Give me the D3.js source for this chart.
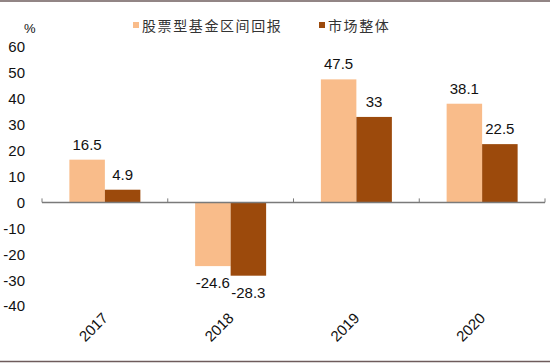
<!DOCTYPE html>
<html><head><meta charset="utf-8">
<script src="https://cdn.jsdelivr.net/npm/d3@7/dist/d3.min.js"></script>
<style>body{margin:0;background:#fff}svg{display:block}</style>
</head><body>
<svg id="c" width="550" height="363"></svg>
<script>
const categories = ["2017", "2018", "2019", "2020"];
const seriesNames = ["股票型基金区间回报", "市场整体"];
const fundValues = [16.5, -24.6, 47.5, 38.1];
const marketValues = [4.9, -28.3, 33, 22.5];
const yTicks = [60, 50, 40, 30, 20, 10, 0, -10, -20, -30, -40];
const colors = ["#F9BC8A", "#9C4A0C"];

const svg = d3.select("#c");
const W = 550, H = 363;
svg.append("rect").attr("width", W).attr("height", H).attr("fill", "#fff");
// frame lines
svg.append("line").attr("x1",0).attr("x2",W).attr("y1",1).attr("y2",1).attr("stroke","#6e5c5c").attr("stroke-width",1.5);
svg.append("line").attr("x1",0).attr("x2",W).attr("y1",361.5).attr("y2",361.5).attr("stroke","#6e5c5c").attr("stroke-width",1.5);

const x = d3.scaleBand().domain(categories).range([42, 545]).padding(0);
const y = d3.scaleLinear().domain([-40, 60]).range([306, 47]);
const barW = 35.5;
const font = "Arial, 'Liberation Sans', sans-serif";

// y tick labels
svg.append("g").selectAll("text").data(yTicks).join("text")
  .attr("x", 25).attr("y", d => y(d)).attr("dy", "0.36em")
  .attr("text-anchor", "end").attr("font-family", font).attr("font-size", 15).attr("fill", "#111")
  .text(d => d);
svg.append("text").attr("x", 24).attr("y", 33).attr("font-family", font).attr("font-size", 13).attr("fill", "#111").text("%");

// bars
const series = [fundValues, marketValues];
series.forEach((vals, si) => {
  const g = svg.append("g");
  g.selectAll("rect").data(categories).join("rect")
    .attr("x", (c) => x(c) + x.bandwidth()/2 - barW + si*barW)
    .attr("width", barW)
    .attr("y", (c, i) => Math.min(y(vals[i]), y(0)))
    .attr("height", (c, i) => Math.abs(y(vals[i]) - y(0)))
    .attr("fill", colors[si]);
  g.selectAll("text").data(categories).join("text")
    .attr("x", (c) => x(c) + x.bandwidth()/2 - barW/2 + si*barW)
    .attr("y", (c, i) => vals[i] >= 0 ? y(vals[i]) - 10 : y(vals[i]) + 22)
    .attr("text-anchor", "middle").attr("font-family", font).attr("font-size", 15).attr("fill", "#111")
    .text((c, i) => vals[i]);
});

// x axis
const axisG = svg.append("g").attr("transform", `translate(0,${y(0)})`);
axisG.append("line").attr("x1", 42).attr("x2", 545).attr("stroke", "#7a7a7a").attr("stroke-width", 1.5);
const bounds = categories.map(c => x(c)).concat([x.range()[1]]);
axisG.selectAll("line.t").data(bounds).join("line").attr("class","t")
  .attr("x1", d => d).attr("x2", d => d).attr("y1", -4).attr("y2", 0)
  .attr("stroke", "#7a7a7a").attr("stroke-width", 1);

// category labels rotated
svg.append("g").selectAll("text").data(categories).join("text")
  .attr("transform", c => `translate(${x(c) + x.bandwidth()/2 + 4},${319}) rotate(-45)`)
  .attr("text-anchor", "end").attr("font-family", font).attr("font-size", 15).attr("fill", "#111")
  .text(c => c);

// legend
const legX = [133, 319];
seriesNames.forEach((n, i) => {
  svg.append("rect").attr("x", legX[i]).attr("y", 22).attr("width", 6).attr("height", 6).attr("fill", colors[i]);
  svg.append("text").attr("x", legX[i] + 9).attr("y", 30.5)
    .attr("font-family", "'Noto Sans CJK SC', sans-serif").attr("font-size", 14)
    .attr("letter-spacing", 1.6).attr("fill", "#333").text(n);
});
</script>
</body></html>
